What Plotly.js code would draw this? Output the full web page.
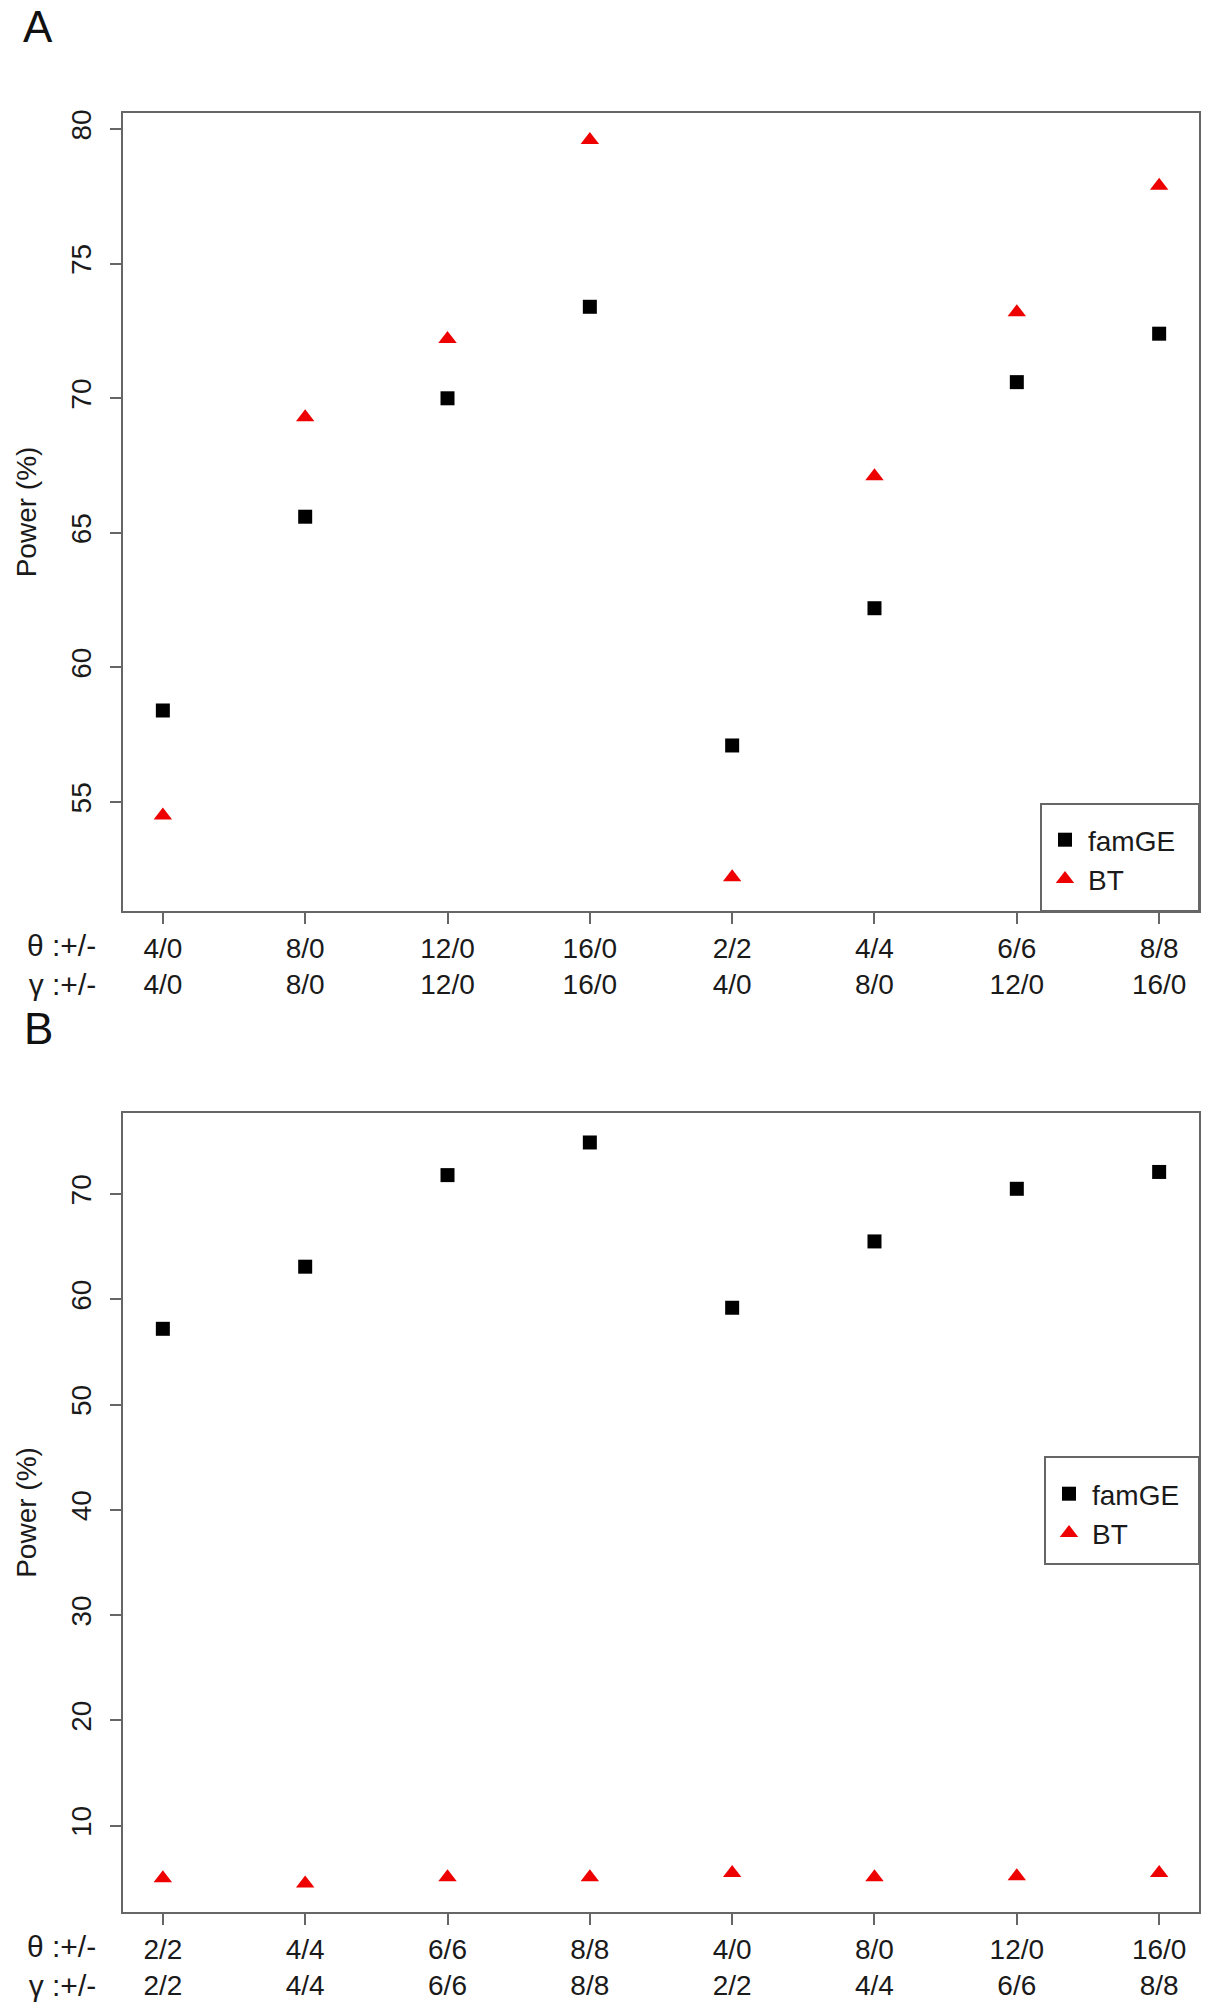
<!DOCTYPE html>
<html>
<head>
<meta charset="utf-8">
<script src="https://cdn.plot.ly/plotly-3.0.1.min.js"></script>
<style>html,body{margin:0;padding:0;background:#fff;}#chart{width:1219px;height:2010px;}</style>
</head>
<body>
<div id="chart"></div>
<script>
// ---- Data ----
const thetaA = ["4/0", "8/0", "12/0", "16/0", "2/2", "4/4", "6/6", "8/8"];
const gammaA = ["4/0", "8/0", "12/0", "16/0", "4/0", "8/0", "12/0", "16/0"];
const famGE_A = [58.4, 65.6, 70.0, 73.4, 57.1, 62.2, 70.6, 72.4];
const BT_A    = [54.5, 69.3, 72.2, 79.6, 52.2, 67.1, 73.2, 77.9];

const thetaB = ["2/2", "4/4", "6/6", "8/8", "4/0", "8/0", "12/0", "16/0"];
const gammaB = ["2/2", "4/4", "6/6", "8/8", "2/2", "4/4", "6/6", "8/8"];
const famGE_B = [57.2, 63.1, 71.8, 74.9, 59.2, 65.5, 70.5, 72.1];
const BT_B    = [5.0, 4.5, 5.1, 5.1, 5.5, 5.1, 5.2, 5.5];

const yTicksA = [55, 60, 65, 70, 75, 80];
const yTicksB = [10, 20, 30, 40, 50, 60, 70];

// ---- Build ----
const W = 1219, H = 2010;
const catsA = thetaA.map((t, i) => t + "<br>" + gammaA[i]);
const catsB = thetaB.map((t, i) => t + "<br>" + gammaB[i]);

const FONT = "Liberation Sans, Arial, sans-serif";
const LINE = "#666666";
const TXT = "#1a1a1a";
const FS = 28;

const sq = {symbol: "square", size: 14, color: "#000000"};
const tri = {symbol: "triangle-up", size: 16, color: "#ee0000"};

const traces = [
  {x: catsA, y: famGE_A, type: "scatter", mode: "markers", name: "famGE", marker: sq, xaxis: "x", yaxis: "y", legend: "legend"},
  {x: catsA, y: BT_A, type: "scatter", mode: "markers", name: "BT", marker: tri, xaxis: "x", yaxis: "y", legend: "legend"},
  {x: catsB, y: famGE_B, type: "scatter", mode: "markers", name: "famGE", marker: sq, xaxis: "x2", yaxis: "y2", legend: "legend2"},
  {x: catsB, y: BT_B, type: "scatter", mode: "markers", name: "BT", marker: tri, xaxis: "x2", yaxis: "y2", legend: "legend2"}
];

const px = v => v / W;
const py = v => 1 - v / H;

const xDom = [px(123), px(1199)];
const yDomA = [py(911), py(113)];
const yDomB = [py(1912), py(1113)];

function xAx(cats, anchor) {
  return {
    domain: xDom, anchor: anchor, type: "category", categoryorder: "array", categoryarray: cats,
    range: [-0.28, cats.length - 1 + 0.28],
    showline: true, mirror: true, linecolor: LINE, linewidth: 2,
    ticks: "outside", ticklen: 11, tickwidth: 2, tickcolor: LINE,
    showgrid: false, zeroline: false, fixedrange: true,
    tickfont: {family: FONT, size: FS, color: TXT}
  };
}
function yAx(dom, anchor, range, ticks) {
  return {
    domain: dom, anchor: anchor, range: range, tickvals: ticks, ticktext: ticks.map(String),
    tickangle: -90, showline: true, mirror: true, linecolor: LINE, linewidth: 2,
    ticks: "outside", ticklen: 11, tickwidth: 2, tickcolor: LINE, ticklabelstandoff: 8,
    showgrid: false, zeroline: false, fixedrange: true,
    tickfont: {family: FONT, size: FS, color: TXT},
    title: {text: "Power (%)", font: {family: FONT, size: FS, color: TXT}, standoff: 21}
  };
}

const layout = {
  width: W, height: H,
  margin: {l: 0, r: 0, t: 0, b: 0},
  paper_bgcolor: "#ffffff", plot_bgcolor: "#ffffff",
  font: {family: FONT, size: FS, color: TXT},
  showlegend: true,
  xaxis: xAx(catsA, "y"),
  yaxis: yAx(yDomA, "x", [50.95, 80.6], yTicksA),
  xaxis2: xAx(catsB, "y2"),
  yaxis2: yAx(yDomB, "x2", [1.8, 77.7], yTicksB),
  legend: {x: px(1042), y: py(815), xanchor: "left", yanchor: "top", bgcolor: "rgba(0,0,0,0)", borderwidth: 0,
           itemwidth: 36, font: {family: FONT, size: FS, color: TXT}, tracegroupgap: 0},
  legend2: {x: px(1046), y: py(1469), xanchor: "left", yanchor: "top", bgcolor: "rgba(0,0,0,0)", borderwidth: 0,
           itemwidth: 36, font: {family: FONT, size: FS, color: TXT}, tracegroupgap: 0},
  shapes: [
    {type: "rect", xref: "paper", yref: "paper", x0: px(1041), x1: px(1199), y0: py(911), y1: py(804),
     line: {color: LINE, width: 2}, fillcolor: "#ffffff", layer: "below"},
    {type: "rect", xref: "paper", yref: "paper", x0: px(1045), x1: px(1199), y0: py(1564), y1: py(1457),
     line: {color: LINE, width: 2}, fillcolor: "#ffffff", layer: "below"}
  ],
  annotations: [
    {text: "A", xref: "paper", yref: "paper", x: px(38), y: py(1), xanchor: "center", yanchor: "top",
     showarrow: false, borderpad: 0, font: {family: FONT, size: 44, color: "#111"}},
    {text: "B", xref: "paper", yref: "paper", x: px(38), y: py(1003), xanchor: "center", yanchor: "top",
     showarrow: false, borderpad: 0, font: {family: FONT, size: 44, color: "#111"}},
    {text: "θ :+/-<br>γ :+/-", xref: "paper", yref: "paper", x: px(98), y: py(927), xanchor: "right", yanchor: "top",
     align: "right", showarrow: false, font: {family: FONT, size: 30, color: TXT}},
    {text: "θ :+/-<br>γ :+/-", xref: "paper", yref: "paper", x: px(98), y: py(1928), xanchor: "right", yanchor: "top",
     align: "right", showarrow: false, font: {family: FONT, size: 30, color: TXT}}
  ]
};

Plotly.newPlot("chart", traces, layout, {displayModeBar: false, staticPlot: true});
</script>
</body>
</html>
